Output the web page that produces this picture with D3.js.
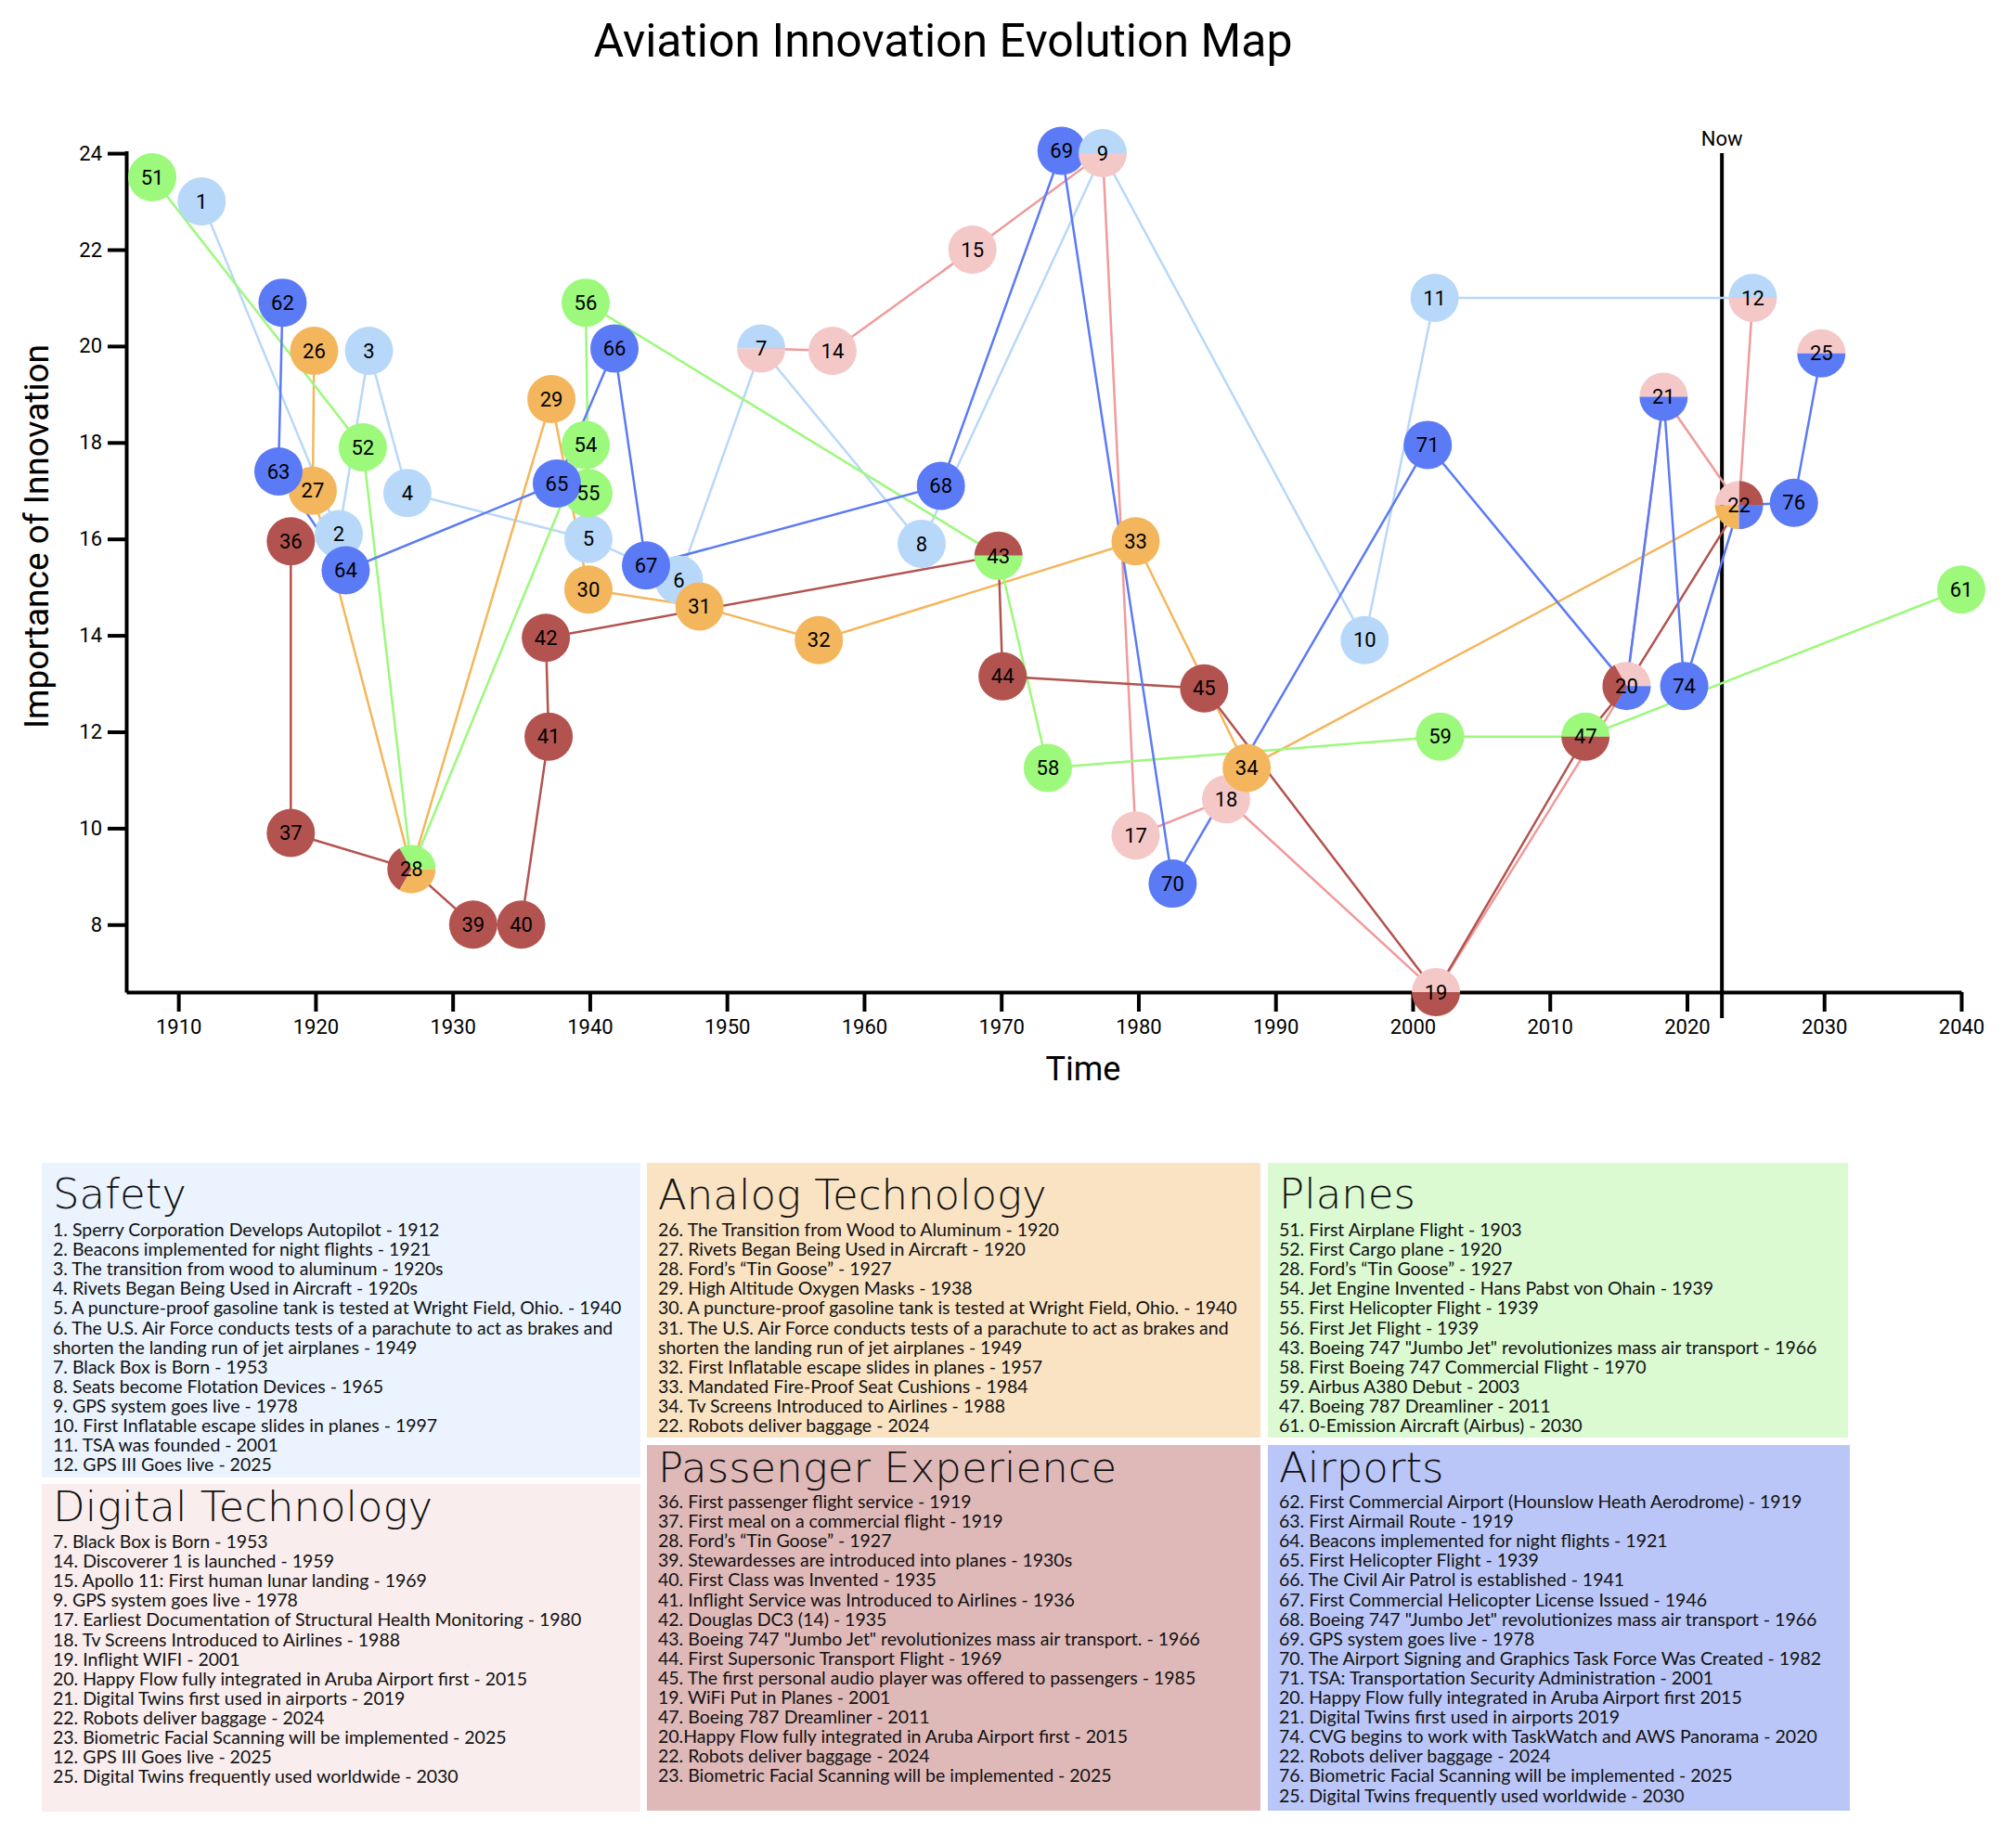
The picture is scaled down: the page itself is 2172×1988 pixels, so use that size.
<!DOCTYPE html>
<html>
<head>
<meta charset="utf-8">
<script src="https://cdn.jsdelivr.net/npm/d3@7"></script>
<style>
  body { margin: 0; background: #fff; }
  svg { display: block; }
</style>
</head>
<body>
<div id="chart"></div>
<script>
// categories
const categories = ['safety', 'digital', 'analog', 'planes', 'passenger', 'airports'];
const categoryNames = ['Safety', 'Digital Technology', 'Analog Technology', 'Planes', 'Passenger Experience', 'Airports'];

// nodes: id, year, importance, categories (pie order)
const nodeIds = [1, 2, 3, 4, 5, 6, 7, 8, 9, 10, 11, 12, 14, 15, 17, 18, 19, 20, 21, 22, 25,
  26, 27, 28, 29, 30, 31, 32, 33, 34, 36, 37, 39, 40, 41, 42, 43, 44, 45, 47,
  51, 52, 54, 55, 56, 58, 59, 61, 62, 63, 64, 65, 66, 67, 68, 69, 70, 71, 74, 76];
const nodeYears = [1911.7, 1921.7, 1923.9, 1926.7, 1939.9, 1946.5, 1952.5, 1964.2, 1977.4, 1996.5, 2001.6, 2024.8, 1957.7, 1967.9, 1979.8, 1986.4, 2001.7, 2015.6, 2018.3, 2023.8, 2029.8,
  1919.9, 1919.8, 1927.0, 1937.2, 1939.9, 1948.0, 1956.7, 1979.8, 1987.9, 1918.2, 1918.2, 1931.5, 1935.0, 1937.0, 1936.8, 1969.8, 1970.1, 1984.8, 2012.6,
  1908.1, 1923.45, 1939.7, 1939.9, 1939.7, 1973.4, 2002.0, 2040.0, 1917.6, 1917.3, 1922.2, 1937.6, 1941.8, 1944.1, 1965.6, 1974.4, 1982.5, 2001.1, 2019.8, 2027.8];
const nodeImportance = [23.0, 16.1, 19.9, 16.95, 16.0, 15.15, 19.95, 15.9, 24.0, 13.9, 21.0, 21.0, 19.9, 22.0, 9.85, 10.6, 6.6, 12.95, 18.95, 16.7, 19.85,
  19.9, 17.0, 9.15, 18.9, 14.95, 14.6, 13.9, 15.95, 11.25, 15.95, 9.9, 8.0, 8.0, 11.9, 13.95, 15.65, 13.15, 12.9, 11.9,
  23.5, 17.9, 17.95, 16.95, 20.9, 11.25, 11.9, 14.95, 20.9, 17.4, 15.35, 17.15, 19.95, 15.45, 17.1, 24.05, 8.85, 17.95, 12.95, 16.75];
const nodeGroups = [
  ['safety'], ['safety'], ['safety'], ['safety'], ['safety'], ['safety'], ['safety', 'digital'], ['safety'], ['safety', 'digital'], ['safety'], ['safety'], ['safety', 'digital'],
  ['digital'], ['digital'], ['digital'], ['digital'], ['digital', 'passenger'], ['digital', 'passenger', 'airports'], ['digital', 'airports'],
  ['passenger', 'digital', 'analog', 'airports'], ['digital', 'airports'],
  ['analog'], ['analog'], ['planes', 'passenger', 'analog'], ['analog'], ['analog'], ['analog'], ['analog'], ['analog'], ['analog'],
  ['passenger'], ['passenger'], ['passenger'], ['passenger'], ['passenger'], ['passenger'], ['passenger', 'planes'], ['passenger'], ['passenger'], ['planes', 'passenger'],
  ['planes'], ['planes'], ['planes'], ['planes'], ['planes'], ['planes'], ['planes'], ['planes'],
  ['airports'], ['airports'], ['airports'], ['airports'], ['airports'], ['airports'], ['airports'], ['airports'], ['airports'], ['airports'], ['airports'], ['airports']];

// connection order per category
const safetyPath = [1, 2, 3, 4, 5, 6, 7, 8, 9, 10, 11, 12];
const digitalPath = [7, 14, 15, 9, 17, 18, 19, 20, 21, 22, 12];
const analogPath = [26, 27, 28, 29, 30, 31, 32, 33, 34, 22];
const planesPath = [51, 52, 28, 54, 55, 56, 43, 58, 59, 47, 61];
const passengerPath = [36, 37, 28, 39, 40, 41, 42, 43, 44, 45, 19, 47, 20, 22];
const airportsPath = [62, 63, 64, 65, 66, 67, 68, 69, 70, 71, 20, 21, 74, 22, 76, 25];

const xTicks = [1910, 1920, 1930, 1940, 1950, 1960, 1970, 1980, 1990, 2000, 2010, 2020, 2030, 2040];
const yTicks = [8, 10, 12, 14, 16, 18, 20, 22, 24];
const nowYear = 2022.55;

// legend texts
const safetyItems = [
  '1. Sperry Corporation Develops Autopilot - 1912',
  '2. Beacons implemented for night flights - 1921',
  '3. The transition from wood to aluminum - 1920s',
  '4. Rivets Began Being Used in Aircraft - 1920s',
  '5. A puncture-proof gasoline tank is tested at Wright Field, Ohio. - 1940',
  '6. The U.S. Air Force conducts tests of a parachute to act as brakes and',
  'shorten the landing run of jet airplanes - 1949',
  '7. Black Box is Born - 1953',
  '8. Seats become Flotation Devices - 1965',
  '9. GPS system goes live - 1978',
  '10. First Inflatable escape slides in planes - 1997',
  '11. TSA was founded - 2001',
  '12. GPS III Goes live - 2025'];
const digitalItems = [
  '7. Black Box is Born - 1953',
  '14. Discoverer 1 is launched - 1959',
  '15. Apollo 11: First human lunar landing - 1969',
  '9. GPS system goes live - 1978',
  '17. Earliest Documentation of Structural Health Monitoring - 1980',
  '18. Tv Screens Introduced to Airlines - 1988',
  '19. Inflight WIFI - 2001',
  '20. Happy Flow fully integrated in Aruba Airport first - 2015',
  '21. Digital Twins first used in airports - 2019',
  '22. Robots deliver baggage - 2024',
  '23. Biometric Facial Scanning will be implemented - 2025',
  '12. GPS III Goes live - 2025',
  '25. Digital Twins frequently used worldwide - 2030'];
const analogItems = [
  '26. The Transition from Wood to Aluminum - 1920',
  '27. Rivets Began Being Used in Aircraft - 1920',
  '28. Ford\u2019s \u201cTin Goose\u201d - 1927',
  '29. High Altitude Oxygen Masks - 1938',
  '30. A puncture-proof gasoline tank is tested at Wright Field, Ohio. - 1940',
  '31. The U.S. Air Force conducts tests of a parachute to act as brakes and',
  'shorten the landing run of jet airplanes - 1949',
  '32. First Inflatable escape slides in planes - 1957',
  '33. Mandated Fire-Proof Seat Cushions - 1984',
  '34. Tv Screens Introduced to Airlines - 1988',
  '22. Robots deliver baggage - 2024'];
const planesItems = [
  '51. First Airplane Flight - 1903',
  '52. First Cargo plane - 1920',
  '28. Ford\u2019s \u201cTin Goose\u201d - 1927',
  '54. Jet Engine Invented - Hans Pabst von Ohain - 1939',
  '55. First Helicopter Flight - 1939',
  '56. First Jet Flight - 1939',
  '43. Boeing 747 "Jumbo Jet" revolutionizes mass air transport - 1966',
  '58. First Boeing 747 Commercial Flight - 1970',
  '59. Airbus A380 Debut - 2003',
  '47. Boeing 787 Dreamliner - 2011',
  '61. 0-Emission Aircraft (Airbus) - 2030'];
const passengerItems = [
  '36. First passenger flight service - 1919',
  '37. First meal on a commercial flight - 1919',
  '28. Ford\u2019s \u201cTin Goose\u201d - 1927',
  '39. Stewardesses are introduced into planes - 1930s',
  '40. First Class was Invented - 1935',
  '41. Inflight Service was Introduced to Airlines - 1936',
  '42. Douglas DC3 (14) - 1935',
  '43. Boeing 747 "Jumbo Jet" revolutionizes mass air transport. - 1966',
  '44. First Supersonic Transport Flight - 1969',
  '45. The first personal audio player was offered to passengers - 1985',
  '19. WiFi Put in Planes - 2001',
  '47. Boeing 787 Dreamliner - 2011',
  '20.Happy Flow fully integrated in Aruba Airport first - 2015',
  '22. Robots deliver baggage - 2024',
  '23. Biometric Facial Scanning will be implemented - 2025'];
const airportsItems = [
  '62. First Commercial Airport (Hounslow Heath Aerodrome) - 1919',
  '63. First Airmail Route - 1919',
  '64. Beacons implemented for night flights - 1921',
  '65. First Helicopter Flight - 1939',
  '66. The Civil Air Patrol is established - 1941',
  '67. First Commercial Helicopter License Issued - 1946',
  '68. Boeing 747 "Jumbo Jet" revolutionizes mass air transport - 1966',
  '69. GPS system goes live - 1978',
  '70. The Airport Signing and Graphics Task Force Was Created - 1982',
  '71. TSA: Transportation Security Administration - 2001',
  '20. Happy Flow fully integrated in Aruba Airport first  2015',
  '21. Digital Twins first used in airports  2019',
  '74. CVG begins to work with TaskWatch and AWS Panorama - 2020',
  '22. Robots deliver baggage - 2024',
  '76. Biometric Facial Scanning will be implemented - 2025',
  '25. Digital Twins frequently used worldwide - 2030'];

// colours
const nodeColor = {
  safety: '#b8d8f9', digital: '#f5c8c8', analog: '#f3b65c',
  planes: '#9cf97c', passenger: '#b3534f', airports: '#5b7af5'
};
const lineColor = {
  safety: '#b8d8f9', digital: '#f09a9a', analog: '#f3b65c',
  planes: '#9cf97c', passenger: '#b3534f', airports: '#5b7af5'
};
const boxColor = {
  safety: '#eaf3fe', digital: '#f9eded', analog: '#fae3c3',
  planes: '#dbfad2', passenger: '#dfb8b8', airports: '#bac6f7'
};

const W = 2172, H = 1988;
const R = 26;

const nodes = nodeIds.map((id, i) => ({
  id: id, year: nodeYears[i], value: nodeImportance[i], groups: nodeGroups[i]
}));
const byId = new Map(nodes.map(d => [d.id, d]));

const paths = [
  ['safety', safetyPath], ['digital', digitalPath], ['analog', analogPath],
  ['planes', planesPath], ['passenger', passengerPath], ['airports', airportsPath]
];

const svg = d3.select('#chart')
  .append('svg')
  .attr('width', W)
  .attr('height', H)
  .style('background', '#fff');

const x = d3.scaleLinear().domain([1906.2, 2040]).range([136, 2113]);
const y = d3.scaleLinear().domain([6.6, 24.05]).range([1069, 162.5]);

// title
svg.append('text')
  .attr('x', 1016)
  .attr('y', 61)
  .attr('text-anchor', 'middle')
  .style('font-family', 'Roboto')
  .style('font-size', '50px')
  .text('Aviation Innovation Evolution Map');

// axes
let xAxis = svg.append('g')
  .attr('transform', `translate(0,${y.range()[0]})`)
  .call(d3.axisBottom(x).tickValues(xTicks).tickFormat(d3.format('d')).tickSize(21).tickSizeOuter(0).tickPadding(8));
let yAxis = svg.append('g')
  .attr('transform', `translate(${x.range()[0]},0)`)
  .call(d3.axisLeft(y).tickValues(yTicks).tickSize(20).tickSizeOuter(0).tickPadding(6));

[xAxis, yAxis].forEach(ax => {
  ax.select('.domain').attr('stroke', '#000').attr('stroke-width', 4);
  ax.selectAll('.tick line').attr('stroke', '#000').attr('stroke-width', 4);
  ax.selectAll('.tick text')
    .style('font-family', 'Roboto')
    .style('font-size', '22px')
    .attr('fill', '#000');
});

svg.append('text')
  .attr('x', 1167)
  .attr('y', 1164)
  .attr('text-anchor', 'middle')
  .style('font-family', 'Roboto')
  .style('font-size', '36px')
  .text('Time');

svg.append('text')
  .attr('transform', 'translate(52,578) rotate(-90)')
  .attr('text-anchor', 'middle')
  .style('font-family', 'Roboto')
  .style('font-size', '37px')
  .text('Importance of Innovation');

// now line
svg.append('line')
  .attr('x1', x(nowYear))
  .attr('x2', x(nowYear))
  .attr('y1', y(24))
  .attr('y2', 1097)
  .attr('stroke', '#000')
  .attr('stroke-width', 4);
svg.append('text')
  .attr('x', x(nowYear))
  .attr('y', 157)
  .attr('text-anchor', 'middle')
  .style('font-family', 'Roboto')
  .style('font-size', '22px')
  .text('Now');

// connection lines
const line = d3.line()
  .x(id => x(byId.get(id).year))
  .y(id => y(byId.get(id).value));

svg.append('g')
  .selectAll('path')
  .data(paths)
  .join('path')
  .attr('d', d => line(d[1]))
  .attr('fill', 'none')
  .attr('stroke', d => lineColor[d[0]])
  .attr('stroke-width', 2.5);

// nodes: single-category first, shared ones drawn on top
const singles = nodes.filter(d => d.groups.length === 1);
const shared = nodes.filter(d => d.groups.length > 1);

let nodeLayer = svg.append('g');
nodeLayer.selectAll('circle')
  .data(singles)
  .join('circle')
  .attr('cx', d => x(d.year))
  .attr('cy', d => y(d.value))
  .attr('r', R)
  .attr('fill', d => nodeColor[d.groups[0]]);

const pie = d3.pie().value(1).sort(null)
  .startAngle(Math.PI / 2)
  .endAngle(Math.PI / 2 - 2 * Math.PI);
const arc = d3.arc().innerRadius(0).outerRadius(R);

nodeLayer.selectAll('g.pie')
  .data(shared)
  .join('g')
  .attr('class', 'pie')
  .attr('transform', d => `translate(${x(d.year)},${y(d.value)})`)
  .selectAll('path')
  .data(d => pie(d.groups))
  .join('path')
  .attr('d', arc)
  .attr('fill', d => nodeColor[d.data]);

svg.append('g')
  .selectAll('text')
  .data(nodes)
  .join('text')
  .attr('x', d => x(d.year))
  .attr('y', d => y(d.value))
  .attr('text-anchor', 'middle')
  .attr('dy', '0.35em')
  .style('font-family', 'Roboto')
  .style('font-size', '22px')
  .attr('fill', '#000')
  .text(d => d.id);

// legend boxes
const boxes = [
  { key: 'safety', items: safetyItems, x: 45, y: 1253, w: 645, h: 339, ty: 1302, ly: 1332 },
  { key: 'digital', items: digitalItems, x: 45, y: 1599, w: 645, h: 353, ty: 1639, ly: 1668 },
  { key: 'analog', items: analogItems, x: 697, y: 1253, w: 661, h: 296, ty: 1303, ly: 1332 },
  { key: 'passenger', items: passengerItems, x: 697, y: 1557, w: 661, h: 394, ty: 1597, ly: 1625 },
  { key: 'planes', items: planesItems, x: 1366, y: 1253, w: 625, h: 296, ty: 1302, ly: 1332 },
  { key: 'airports', items: airportsItems, x: 1366, y: 1557, w: 627, h: 394, ty: 1597, ly: 1625 }
];

let legend = svg.append('g')
  .selectAll('g')
  .data(boxes)
  .join('g');

legend.append('rect')
  .attr('x', d => d.x)
  .attr('y', d => d.y)
  .attr('width', d => d.w)
  .attr('height', d => d.h)
  .attr('fill', d => boxColor[d.key]);

legend.append('text')
  .attr('x', d => d.x + 12)
  .attr('y', d => d.ty)
  .style('font-family', 'DejaVu Sans')
  .style('font-weight', 300)
  .style('font-size', '45px')
  .attr('fill', '#111')
  .text(d => categoryNames[categories.indexOf(d.key)]);

legend.each(function (b) {
  d3.select(this).selectAll('text.item')
    .data(b.items)
    .join('text')
    .attr('class', 'item')
    .attr('x', b.x + 12)
    .attr('y', (d, i) => b.ly + i * 21.1)
    .style('font-family', 'Lato')
    .style('font-size', '19.5px')
    .attr('fill', '#111')
    .text(d => d);
});
</script>
</body>
</html>
